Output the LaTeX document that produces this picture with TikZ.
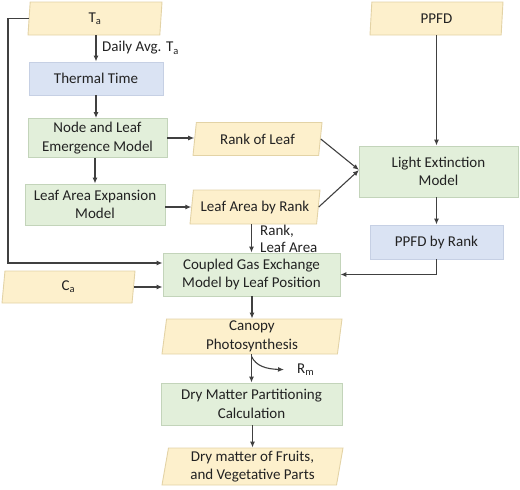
\documentclass[tikz,border=0pt]{standalone}
\usepackage{fontspec}
\setmainfont{Carlito}
\usetikzlibrary{shapes.geometric,arrows.meta}
\definecolor{yelfill}{HTML}{FDF0CC}
\definecolor{yeldraw}{HTML}{E3D3A6}
\definecolor{grnfill}{HTML}{E2EFDA}
\definecolor{grndraw}{HTML}{C3D4BA}
\definecolor{blufill}{HTML}{DAE3F3}
\definecolor{bludraw}{HTML}{C6D0E4}
\definecolor{linec}{HTML}{404040}
\definecolor{txtc}{HTML}{222222}
\tikzset{
  base/.style={inner sep=1pt, align=center, text=txtc, font=\fontsize{15}{18.5}\selectfont, line width=0.9pt},
  databox/.style={base, trapezium, trapezium left angle=#1, trapezium right angle=180-#1,
     trapezium stretches body=true, fill=yelfill, draw=yeldraw},
  databox/.default=78,
  greenbox/.style={base, rectangle, fill=grnfill, draw=grndraw},
  bluebox/.style={base, rectangle, fill=blufill, draw=bludraw},
  arr/.style={draw=linec, line width=1.1pt, -{Latex[length=6pt,width=5pt]}},
  lbl/.style={text=txtc, font=\fontsize{15}{17}\selectfont, inner sep=1pt, align=left}
}
\begin{document}
\begin{tikzpicture}[x=1pt,y=-1pt]
\useasboundingbox (0,0) rectangle (520,490);
% nodes
\node[databox=81, minimum width=134pt, minimum height=33pt] (ta) at (95,18.5) {T\textsubscript{a}};
\node[databox=81, minimum width=133pt, minimum height=33pt] (ppfd) at (436.5,18.5) {PPFD};
\node[bluebox, minimum width=134pt, minimum height=33pt] (tt) at (96,78.5) {Thermal Time};
\node[greenbox, minimum width=139pt, minimum height=39pt] (nle) at (97.5,138) {Node and Leaf\\Emergence Model};
\node[databox=75, minimum width=129pt, minimum height=33pt] (rol) at (257.5,139) {Rank of Leaf};
\node[greenbox, minimum width=140pt, minimum height=41pt] (lae) at (95,204.5) {Leaf Area Expansion\\Model};
\node[databox=77, minimum width=130pt, minimum height=34pt] (lar) at (255,207) {Leaf Area by Rank};
\node[greenbox, minimum width=159pt, minimum height=51pt] (lem) at (438.5,171.5) {Light Extinction\\Model};
\node[bluebox, minimum width=133pt, minimum height=34pt] (pbr) at (436.5,242) {PPFD by Rank};
\node[greenbox, minimum width=177pt, minimum height=43pt] (gas) at (251.5,274.5) {Coupled Gas Exchange\\Model by Leaf Position};
\node[databox=78, minimum width=133pt, minimum height=32pt] (ca) at (68.5,287) {C\textsubscript{a}};
\node[databox=82, minimum width=180pt, minimum height=35pt] (can) at (252,336.5) {Canopy\\Photosynthesis};
\node[greenbox, minimum width=181pt, minimum height=42pt] (dmp) at (251.5,404) {Dry Matter Partitioning\\Calculation};
\node[databox=79, minimum width=181pt, minimum height=37pt] (dmf) at (252.5,466.5) {Dry matter of Fruits,\\and Vegetative Parts};
% labels
\node[lbl, anchor=west] (daily) at (101,48) {Daily Avg. T\textsubscript{a}};
\node[lbl, anchor=north west, font=\fontsize{15}{16.5}\selectfont] (rla) at (259,224) {Rank,\\Leaf Area};
\node[lbl, anchor=west] (rmt) at (296,370) {R\textsubscript{m}};
% connectors
\draw[arr] (ta.south -| tt.north) -- (tt.north);
\draw[arr] (tt.south) -- (tt.south |- nle.north);
\draw[arr] (nle.south -| lae.north) -- (lae.north);
\draw[arr] (nle.east) -- (nle.east -| rol.west);
\draw[arr] (lae.east |- lar.west) -- (lar.west);
\coordinate (lemin) at (359,170);
\draw[arr] (rol.east) -- (lemin);
\draw[arr] (lar.east) -- (lemin);
\draw[arr] (ppfd.south) -- (ppfd.south |- lem.north);
\draw[arr] (lem.south -| pbr.north) -- (pbr.north);
\draw[arr] (pbr.south) |- (gas.east);
\draw[arr] (gas.north |- lar.south) -- (gas.north);
\coordinate (loop) at (8,263);
\draw[arr] (ta.west) -| (loop) -- ([yshift=11.5pt]gas.west);
\draw[arr] (ca.east) -- (ca.east -| gas.west);
\draw[arr] (gas.south -| can.north) -- (can.north);
\draw[arr] (can.south -| dmp.north) -- (dmp.north);
\draw[arr, shorten >=12pt] ([yshift=-2pt]can.south -| dmp.north) .. controls (256,366) and (266,369) .. (rmt.west);
\draw[arr] (dmp.south -| dmf.north) -- (dmf.north);
\end{tikzpicture}
\end{document}
